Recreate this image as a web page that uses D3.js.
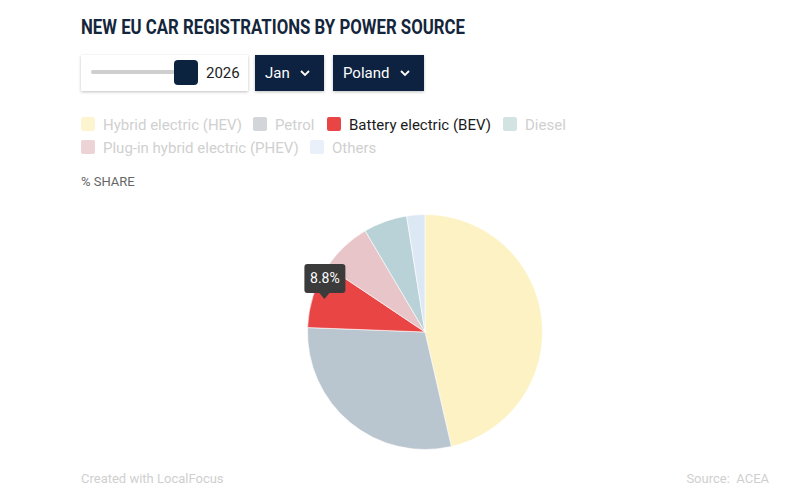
<!DOCTYPE html>
<html>
<head>
<meta charset="utf-8">
<script src="https://cdn.jsdelivr.net/npm/d3@7"></script>
<style>
  body { margin: 0; background: #fff; }
  svg { font-family: Roboto, "Noto Sans", sans-serif; }
</style>
</head>
<body>
<div id="chart"></div>
<script>
// chart data (Poland, Jan 2026)
const sources = ["Hybrid electric (HEV)", "Petrol", "Battery electric (BEV)", "Diesel", "Plug-in hybrid electric (PHEV)", "Others"];
const pieOrder = ["Hybrid electric (HEV)", "Petrol", "Battery electric (BEV)", "Plug-in hybrid electric (PHEV)", "Diesel", "Others"];
const shares = [46.4, 29.2, 8.8, 7.1, 6.0, 2.5]; // in pieOrder
const highlighted = "Battery electric (BEV)";

const WIDTH = 800;
const HEIGHT = 504;

// faded colours as shown when one slice is hovered
const sliceColor = d3.scaleOrdinal()
  .domain(pieOrder)
  .range(["#fdf2c3", "#b9c5cf", "#e94545", "#e8c5c8", "#b8d2d7", "#dde8f5"]);
const legendColor = d3.scaleOrdinal()
  .domain(sources)
  .range(["#fdf5d2", "#d2d6da", "#e94545", "#d3e3e1", "#ecd3d5", "#e9f0f9"]);

const svg = d3.select("#chart")
  .append("svg")
    .attr("width", WIDTH)
    .attr("height", HEIGHT);

const defs = svg.append("defs");
const shadow = defs.append("filter").attr("id", "shadow")
  .attr("x", "-10%").attr("y", "-20%").attr("width", "120%").attr("height", "150%");
shadow.append("feDropShadow")
  .attr("dx", 0).attr("dy", 1).attr("stdDeviation", 1.5)
  .attr("flood-color", "#000").attr("flood-opacity", 0.25);

// title
svg.append("text")
  .attr("x", 81).attr("y", 34)
  .attr("font-size", 20).attr("font-weight", 700)
  .attr("fill", "#14263b")
  .attr("textLength", 384).attr("lengthAdjust", "spacingAndGlyphs")
  .text("NEW EU CAR REGISTRATIONS BY POWER SOURCE");

// year slider
const slider = svg.append("g");
slider.append("rect")
  .attr("x", 81).attr("y", 55).attr("width", 167).attr("height", 36)
  .attr("fill", "#fff").attr("filter", "url(#shadow)");
slider.append("rect")
  .attr("x", 91).attr("y", 70).attr("width", 90).attr("height", 4)
  .attr("rx", 2).attr("fill", "#cfcfcf");
slider.append("rect")
  .attr("x", 174).attr("y", 60).attr("width", 24).attr("height", 25)
  .attr("rx", 4).attr("fill", "#0c2340");
slider.append("text")
  .attr("x", 206).attr("y", 78)
  .attr("font-size", 15).attr("fill", "#222")
  .text("2026");

// dropdowns
const dropdowns = [{label: "Jan", x: 255, w: 69}, {label: "Poland", x: 333, w: 91}];
dropdowns.forEach(d => {
  const g = svg.append("g");
  g.append("rect")
    .attr("x", d.x).attr("y", 55).attr("width", d.w).attr("height", 36)
    .attr("fill", "#0c2340").attr("filter", "url(#shadow)");
  g.append("text")
    .attr("x", d.x + 10).attr("y", 78)
    .attr("font-size", 15).attr("fill", "#fff")
    .text(d.label);
  const cx = d.x + d.w - 19;
  g.append("path")
    .attr("d", `M${cx - 4},${71} L${cx},${75} L${cx + 4},${71}`)
    .attr("fill", "none").attr("stroke", "#fff").attr("stroke-width", 1.8);
});

// legend
const legendPos = [
  {x: 81, y: 124}, {x: 253, y: 124}, {x: 327, y: 124}, {x: 503, y: 124},
  {x: 81, y: 147}, {x: 310, y: 147}
];
const legend = svg.append("g").selectAll("g")
  .data(sources)
  .enter()
  .append("g")
    .attr("transform", (d, i) => "translate(" + legendPos[i].x + "," + legendPos[i].y + ")");
legend.append("rect")
  .attr("x", 0).attr("y", -7).attr("width", 14).attr("height", 14)
  .attr("rx", 2)
  .attr("fill", d => legendColor(d));
legend.append("text")
  .attr("x", 22).attr("y", 5.5)
  .attr("font-size", 15)
  .attr("fill", d => d === highlighted ? "#1b1b1b" : "#d0d0d0")
  .text(d => d);

// axis label
svg.append("text")
  .attr("x", 81).attr("y", 186)
  .attr("font-size", 13).attr("fill", "#666")
  .text("% SHARE");

// pie
const CX = 425, CY = 332, R = 117.5;
const pieData = pieOrder.map((k, i) => ({key: k, value: shares[i]}));
const pie = d3.pie().value(d => d.value).sort(null);
const arc = d3.arc().innerRadius(0).outerRadius(R);
const arcs = pie(pieData);

const pieG = svg.append("g").attr("transform", "translate(" + CX + "," + CY + ")");
pieG.selectAll("path")
  .data(arcs)
  .enter()
  .append("path")
    .attr("d", arc)
    .attr("fill", d => sliceColor(d.data.key))
    .attr("stroke", "#fff")
    .attr("stroke-width", 0.6);

// tooltip on the highlighted slice
const hi = arcs.find(a => a.data.key === highlighted);
const tipX = CX + Math.sin(hi.endAngle) * (R - 6) - 8;
const tipY = CY - Math.cos(hi.endAngle) * (R - 6) + 29;
const tip = svg.append("g").attr("transform", "translate(" + tipX + "," + tipY + ")");
tip.append("rect")
  .attr("x", -20).attr("y", -35).attr("width", 41).attr("height", 29)
  .attr("rx", 3).attr("fill", "#3b3b3b");
tip.append("path")
  .attr("d", "M-5,-6 L0,0 L5,-6 Z")
  .attr("fill", "#3b3b3b");
tip.append("text")
  .attr("x", 0.5).attr("y", -15.5)
  .attr("text-anchor", "middle")
  .attr("font-size", 14).attr("fill", "#fff")
  .text(d3.format(".1f")(hi.data.value) + "%");

// footer
svg.append("text")
  .attr("x", 81).attr("y", 483)
  .attr("font-size", 13).attr("fill", "#cfcfcf")
  .text("Created with LocalFocus");
svg.append("text")
  .attr("x", 769).attr("y", 483)
  .attr("text-anchor", "end")
  .attr("font-size", 13).attr("fill", "#cfcfcf")
  .attr("xml:space", "preserve")
  .text("Source:  ACEA");
</script>
</body>
</html>
